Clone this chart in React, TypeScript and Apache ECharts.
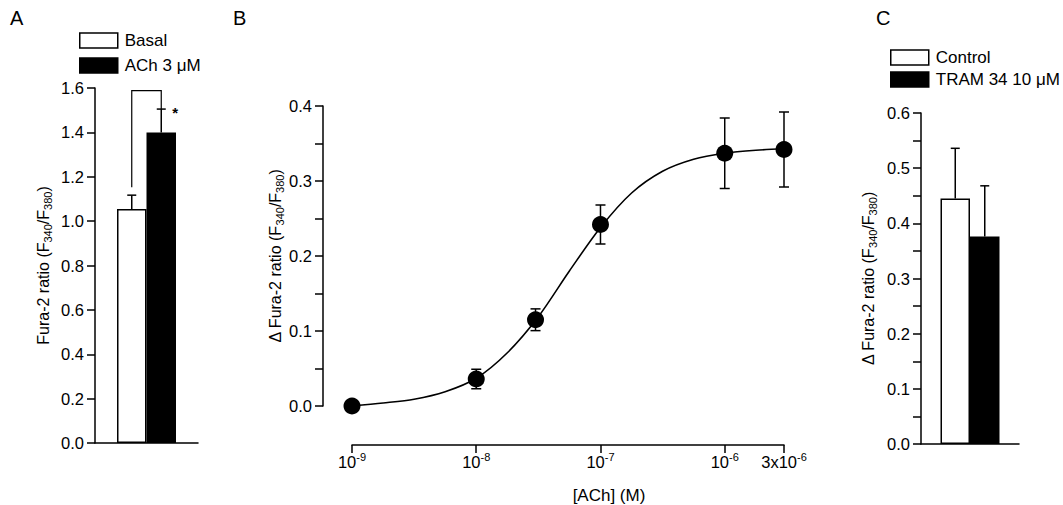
import React, { useEffect, useRef } from 'react';
import * as echarts from 'echarts';

const FONT = '"Liberation Sans", Arial, sans-serif';

// ---------- Panel A ----------
const A_CATEGORIES = [''];
const A_BASAL = [1.055];
const A_BASAL_ERR_TOP = [1.117];
const A_ACH = [1.4];
const A_ACH_ERR_TOP = [1.505];
const A_BRACKET_TOP = [1.588];
const A_BRACKET_LEFT_BOTTOM = [1.153];

// ---------- Panel B ----------
const B_CONC = [1e-9, 1e-8, 3e-8, 1e-7, 1e-6, 3e-6];
const B_MEAN = [0.0, 0.036, 0.115, 0.242, 0.337, 0.342];
const B_SEM = [0, 0.013, 0.0145, 0.026, 0.047, 0.05];
const B_FIT_CONC = [1e-9, 1.78e-9, 3.16e-9, 5.62e-9, 1e-8, 1.78e-8, 3.16e-8, 5.62e-8, 1e-7, 1.78e-7, 3.16e-7, 5.62e-7, 1e-6, 1.78e-6, 3e-6];
const B_FIT_VALUE = [0.0, 0.004, 0.009, 0.019, 0.037, 0.071, 0.119, 0.18, 0.238, 0.284, 0.313, 0.329, 0.337, 0.341, 0.343];
const B_X_TICKS = [1e-9, 1e-8, 1e-7, 1e-6, 3e-6];

// ---------- Panel C ----------
const C_CATEGORIES = [''];
const C_CONTROL = [0.445];
const C_CONTROL_ERR_TOP = [0.536];
const C_TRAM = [0.376];
const C_TRAM_ERR_TOP = [0.468];

const BAR_W = 29.5;
const LW = 1.5;

const baseText = { color: '#000', fontFamily: FONT, fontSize: 16.5 };

const nameRich = {
  n: { ...baseText, fontSize: 16, lineHeight: 20 },
  s: { ...baseText, fontSize: 11, lineHeight: 11, verticalAlign: 'bottom' as const },
};

const supRich = {
  b: { ...baseText, fontSize: 16.5, lineHeight: 22 },
  s: { ...baseText, fontSize: 11, lineHeight: 11, verticalAlign: 'top' as const },
};

function fmtPow(v: number) {
  const e = Math.floor(Math.log10(v) + 1e-9);
  const m = Math.round(v / Math.pow(10, e));
  return (m === 1 ? '{b|10}' : `{b|${m}x10}`) + `{s|${e}}`;
}

function barErrRenderer(params: any, api: any) {
  const off = (params.dataIndex === 0 ? -1 : 1) * BAR_W / 2;
  const base = api.coord([0, api.value(1)]);
  const top = api.coord([0, api.value(2)]);
  const x = base[0] + off;
  const st = { stroke: '#000', lineWidth: LW };
  return {
    type: 'group',
    children: [
      { type: 'line', shape: { x1: x, y1: base[1], x2: x, y2: top[1] }, style: st },
      { type: 'line', shape: { x1: x - 4.5, y1: top[1], x2: x + 4.5, y2: top[1] }, style: st },
    ],
  };
}

function bracketRenderer(_params: any, api: any) {
  const lb = api.coord([0, api.value(1)]);
  const t = api.coord([0, api.value(2)]);
  const rb = api.coord([0, api.value(3)]);
  const xl = lb[0] - BAR_W / 2;
  const xr = lb[0] + BAR_W / 2;
  return {
    type: 'group',
    children: [
      {
        type: 'polyline',
        shape: { points: [[xl, lb[1]], [xl, t[1]], [xr, t[1]], [xr, rb[1]]] },
        style: { stroke: '#000', lineWidth: 1.2, fill: null },
      },
      {
        type: 'text',
        x: xr + 14,
        y: rb[1] + 3,
        style: { text: '*', fontSize: 15, fontFamily: FONT, fill: '#000', align: 'center', verticalAlign: 'middle', fontWeight: 'bold' },
      },
    ],
  };
}

function pointErrRenderer(_params: any, api: any) {
  const x = api.value(0);
  const lo = api.coord([x, api.value(1)]);
  const hi = api.coord([x, api.value(2)]);
  if (Math.abs(hi[1] - lo[1]) < 1) return { type: 'group', children: [] };
  const st = { stroke: '#000', lineWidth: LW };
  const cx = lo[0];
  return {
    type: 'group',
    children: [
      { type: 'line', shape: { x1: cx, y1: lo[1], x2: cx, y2: hi[1] }, style: st },
      { type: 'line', shape: { x1: cx - 5, y1: lo[1], x2: cx + 5, y2: lo[1] }, style: st },
      { type: 'line', shape: { x1: cx - 5, y1: hi[1], x2: cx + 5, y2: hi[1] }, style: st },
    ],
  };
}

const axisLineStyle = { onZero: false, lineStyle: { color: '#000', width: LW } };

export default function App() {
  const ref = useRef<HTMLDivElement>(null);

  useEffect(() => {
    if (!ref.current) return;
    const chart = echarts.init(ref.current, undefined, { renderer: 'svg' });

    const legendCommon = {
      orient: 'vertical' as const,
      icon: 'rect',
      itemWidth: 38,
      itemHeight: 15,
      selectedMode: false,
      padding: 0,
      textStyle: { ...baseText, fontSize: 17, padding: [0, 0, 0, 2] },
    };

    const option: any = {
      animation: false,
      backgroundColor: '#fff',
      textStyle: { fontFamily: FONT },
      graphic: [
        { type: 'text', left: 10, top: 8, style: { text: 'A', fontSize: 20, fontFamily: FONT, fill: '#000' } },
        { type: 'text', left: 233, top: 8, style: { text: 'B', fontSize: 20, fontFamily: FONT, fill: '#000' } },
        { type: 'text', left: 876, top: 8, style: { text: 'C', fontSize: 20, fontFamily: FONT, fill: '#000' } },
      ],
      legend: [
        {
          ...legendCommon,
          left: 79,
          top: 32,
          itemGap: 8,
          data: [
            { name: 'Basal', itemStyle: { color: '#fff', borderColor: '#000', borderWidth: LW } },
            { name: 'ACh 3 μM', itemStyle: { color: '#000', borderColor: '#000', borderWidth: LW } },
          ],
        },
        {
          ...legendCommon,
          left: 890,
          top: 49,
          itemGap: 5,
          data: [
            { name: 'Control', itemStyle: { color: '#fff', borderColor: '#000', borderWidth: LW } },
            { name: 'TRAM 34 10 μM', itemStyle: { color: '#000', borderColor: '#000', borderWidth: LW } },
          ],
        },
      ],
      grid: [
        { left: 95, top: 88, width: 103, height: 355, outerBoundsMode: 'none', containLabel: false },
        { left: 352, top: 106, width: 432, height: 300, outerBoundsMode: 'none', containLabel: false },
        { left: 921, top: 113, width: 98, height: 331, outerBoundsMode: 'none', containLabel: false },
      ],
      xAxis: [
        {
          gridIndex: 0,
          type: 'category',
          data: A_CATEGORIES,
          axisLine: axisLineStyle,
          axisTick: { show: false },
          axisLabel: { show: false },
        },
        {
          gridIndex: 1,
          type: 'log',
          logBase: 10,
          min: 1e-9,
          max: 3e-6,
          offset: 39,
          name: '[ACh] (M)',
          nameLocation: 'middle',
          nameGap: 42,
          nameTextStyle: { ...baseText, fontSize: 17, padding: [0, 0, 0, 82] },
          axisLine: axisLineStyle,
          axisTick: { show: true, length: 8, lineStyle: { color: '#000', width: LW }, customValues: B_X_TICKS },
          axisLabel: { margin: 6, customValues: B_X_TICKS, formatter: (v: number) => fmtPow(v), rich: supRich, ...baseText },
          splitLine: { show: false },
          minorTick: { show: false },
        },
        {
          gridIndex: 2,
          type: 'category',
          data: C_CATEGORIES,
          axisLine: axisLineStyle,
          axisTick: { show: false },
          axisLabel: { show: false },
        },
      ],
      yAxis: [
        {
          gridIndex: 0,
          type: 'value',
          min: 0,
          max: 1.6,
          interval: 0.2,
          name: '{n|Fura-2 ratio (F}{s|340}{n|/F}{s|380}{n|)}',
          nameLocation: 'middle',
          nameRotate: 90,
          nameGap: 42,
          nameTextStyle: { rich: nameRich },
          axisLine: { show: true, ...axisLineStyle },
          axisTick: { show: true, length: 8, lineStyle: { color: '#000', width: LW } },
          axisLabel: { ...baseText, margin: 11, formatter: (v: number) => v.toFixed(1) },
          splitLine: { show: false },
        },
        {
          gridIndex: 1,
          type: 'value',
          min: 0,
          max: 0.4,
          interval: 0.1,
          offset: 29,
          name: '{n|Δ Fura-2 ratio (F}{s|340}{n|/F}{s|380}{n|)}',
          nameLocation: 'middle',
          nameRotate: 90,
          nameGap: 38,
          nameTextStyle: { rich: nameRich },
          axisLine: { show: true, ...axisLineStyle },
          axisTick: { show: true, length: 8, lineStyle: { color: '#000', width: LW } },
          minorTick: { show: true, splitNumber: 2, length: 8, lineStyle: { color: '#000', width: LW } },
          axisLabel: { ...baseText, margin: 11, formatter: (v: number) => v.toFixed(1) },
          splitLine: { show: false },
          minorSplitLine: { show: false },
        },
        {
          gridIndex: 2,
          type: 'value',
          min: 0,
          max: 0.6,
          interval: 0.1,
          name: '{n|Δ Fura-2 ratio (F}{s|340}{n|/F}{s|380}{n|)}',
          nameLocation: 'middle',
          nameRotate: 90,
          nameGap: 43,
          nameTextStyle: { rich: nameRich },
          axisLine: { show: true, ...axisLineStyle },
          axisTick: { show: true, length: 8, lineStyle: { color: '#000', width: LW } },
          minorTick: { show: true, splitNumber: 2, length: 8, lineStyle: { color: '#000', width: LW } },
          axisLabel: { ...baseText, margin: 11, formatter: (v: number) => v.toFixed(1) },
          splitLine: { show: false },
          minorSplitLine: { show: false },
        },
      ],
      series: [
        // Panel A
        {
          type: 'bar', name: 'Basal', xAxisIndex: 0, yAxisIndex: 0, data: A_BASAL,
          barWidth: BAR_W, barGap: '0%',
          itemStyle: { color: '#fff', borderColor: '#000', borderWidth: LW },
        },
        {
          type: 'bar', name: 'ACh 3 μM', xAxisIndex: 0, yAxisIndex: 0, data: A_ACH,
          barWidth: BAR_W, barGap: '0%',
          itemStyle: { color: '#000', borderColor: '#000', borderWidth: LW },
        },
        {
          type: 'custom', xAxisIndex: 0, yAxisIndex: 0, z: 3,
          renderItem: barErrRenderer,
          data: [[0, A_BASAL[0], A_BASAL_ERR_TOP[0]], [0, A_ACH[0], A_ACH_ERR_TOP[0]]],
        },
        {
          type: 'custom', xAxisIndex: 0, yAxisIndex: 0, z: 3,
          renderItem: bracketRenderer,
          data: [[0, A_BRACKET_LEFT_BOTTOM[0], A_BRACKET_TOP[0], A_ACH_ERR_TOP[0]]],
        },
        // Panel B
        {
          type: 'line', xAxisIndex: 1, yAxisIndex: 1,
          data: B_FIT_CONC.map((c, i) => [c, B_FIT_VALUE[i]]),
          smooth: 0.3, showSymbol: false, symbol: 'none', clip: false,
          lineStyle: { color: '#000', width: 1.6 },
        },
        {
          type: 'custom', xAxisIndex: 1, yAxisIndex: 1, z: 3,
          renderItem: pointErrRenderer, clip: false,
          data: B_CONC.map((c, i) => [c, B_MEAN[i] - B_SEM[i], B_MEAN[i] + B_SEM[i]]),
        },
        {
          type: 'scatter', xAxisIndex: 1, yAxisIndex: 1, z: 4,
          data: B_CONC.map((c, i) => [c, B_MEAN[i]]),
          symbol: 'circle', symbolSize: 17, clip: false,
          itemStyle: { color: '#000', opacity: 1 },
        },
        // Panel C
        {
          type: 'bar', name: 'Control', xAxisIndex: 2, yAxisIndex: 2, data: C_CONTROL,
          barWidth: BAR_W, barGap: '0%',
          itemStyle: { color: '#fff', borderColor: '#000', borderWidth: LW },
        },
        {
          type: 'bar', name: 'TRAM 34 10 μM', xAxisIndex: 2, yAxisIndex: 2, data: C_TRAM,
          barWidth: BAR_W, barGap: '0%',
          itemStyle: { color: '#000', borderColor: '#000', borderWidth: LW },
        },
        {
          type: 'custom', xAxisIndex: 2, yAxisIndex: 2, z: 3,
          renderItem: barErrRenderer,
          data: [[0, C_CONTROL[0], C_CONTROL_ERR_TOP[0]], [0, C_TRAM[0], C_TRAM_ERR_TOP[0]]],
        },
      ],
    };

    chart.setOption(option);
    return () => chart.dispose();
  }, []);

  return (
    <div
      ref={ref}
      style={{ position: 'absolute', left: 0, top: 0, width: 1063, height: 505, background: '#fff' }}
    />
  );
}
